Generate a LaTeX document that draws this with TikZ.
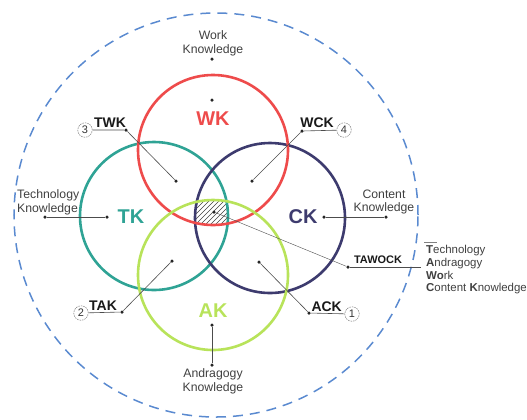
\documentclass[tikz,border=0pt]{standalone}
\usepackage{fontspec}
\setmainfont{Liberation Sans}
\definecolor{cwk}{HTML}{EE4B4B}
\definecolor{ctk}{HTML}{2FA395}
\definecolor{cck}{HTML}{3D3B6E}
\definecolor{cak}{HTML}{B8E35A}
\definecolor{cout}{HTML}{5A8AD0}
\begin{document}
\begin{tikzpicture}[x=1bp,y=-1bp,
  dot/.style={circle,fill=black!85,inner sep=0pt,minimum size=3.5bp},
  lbl/.style={font=\fontsize{12.3}{14}\selectfont,text=black!75,align=center,inner sep=0pt},
  bigl/.style={font=\fontsize{20}{20}\selectfont\bfseries,inner sep=0pt},
  midl/.style={font=\fontsize{14}{14}\selectfont\bfseries,inner sep=0pt,text=black!90},
  numc/.style={circle,draw=black!55,dash pattern=on 1.5bp off 1bp,line width=0.5bp,minimum size=14.5bp,inner sep=0pt,font=\fontsize{11}{11}\selectfont,text=black!80},
  conn/.style={draw=black!70,line width=0.6bp},
  ring/.style={line width=2.6bp},
  hatch/.style={draw=black!75,line width=0.6bp}]
\useasboundingbox (0,0) rectangle (527,419);
% outer dashed circle
\draw[cout,line width=1.5bp,dash pattern=on 10bp off 7bp] (216,215) circle[radius=202bp];
% hatched four-way intersection
\begin{scope}
  \clip (213,150) circle[radius=75bp];
  \clip (154,216) circle[radius=74bp];
  \clip (270,218) circle[radius=75bp];
  \clip (213,275) circle[radius=75bp];
  \foreach \i in {-60,-55,...,60} {\draw[hatch] (180+\i,245) -- (245+\i,180);}
\end{scope}
% circles
\draw[ring,ctk] (154,216) circle[radius=74bp];
\draw[ring,cck] (270,218) circle[radius=75bp];
\draw[ring,cwk] (213,150) circle[radius=75bp];
\draw[ring,cak] (213,275) circle[radius=75bp];
% circle labels
\node[bigl,text=cwk] (wk) at (213,119) {WK};
\node[bigl,text=ctk] (tk) at (131,217) {TK};
\node[bigl,text=cck] (ck) at (303,217) {CK};
\node[bigl,text=cak] (ak) at (213,311) {AK};
% outer texts
\node[lbl] (wkt) at (213,43) {Work\\Knowledge};
\node[dot] (wkd1) at (212,59) {};
\node[dot] (wkd2) at (212,100) {};
\node[lbl,align=left,anchor=west] (tkt) at (17,202) {Technology\\Knowledge};
\node[dot] (tkd1) at (45,217) {};
\node[dot] (tkd2) at (107,217) {};
\draw[conn] (tkd1) -- (tkd2);
\node[lbl] (ckt) at (384,202) {Content\\Knowledge};
\node[dot] (ckd1) at (324,217) {};
\node[dot] (ckd2) at (386,217) {};
\draw[conn] (ckd1) -- (ckd2);
\node[lbl] (akt) at (213,381) {Andragogy\\Knowledge};
\node[dot] (akd1) at (212,325) {};
\node[dot] (akd2) at (212,365) {};
\draw[conn] (akd1) -- (akd2);
% pairwise intersections
\node[numc] (n3) at (85,130) {3};
\node[midl,anchor=south west] (twk) at (94,128) {TWK};
\node[dot] (twke) at (126,130) {};
\node[dot] (twkd) at (176,181) {};
\draw[conn] (n3) -- (twke) -- (twkd);
\node[numc] (n4) at (344,130) {4};
\node[midl,anchor=south east] (wck) at (334,128) {WCK};
\node[dot] (wcke) at (302,131) {};
\node[dot] (wckd) at (252,181) {};
\draw[conn] (n4) -- (wcke) -- (wckd);
\node[numc] (n2) at (81,313) {2};
\node[midl,anchor=south west] (tak) at (89,311) {TAK};
\node[dot] (take) at (122,312) {};
\node[dot] (takd) at (172,261) {};
\draw[conn] (n2) -- (take) -- (takd);
\node[numc] (n1) at (352,314) {1};
\node[midl,anchor=south east] (ack) at (342,312) {ACK};
\node[dot] (acke) at (309,313) {};
\node[dot] (ackd) at (259,262) {};
\draw[conn] (n1) -- (acke) -- (ackd);
% TAWOCK
\node[dot] (tawd) at (214,212) {};
\node[dot] (tawe) at (348,267) {};
\coordinate (tawr) at (421,267);
\draw[conn,line width=0.4bp] (tawd) -- (tawe);
\draw[conn] (tawe) -- (tawr);
\node[font=\fontsize{11}{11}\selectfont\bfseries,inner sep=0pt,anchor=south,text=black!90] (tawock) at (378,264) {TAWOCK};
\coordinate (br1) at (424,242);
\coordinate (br2) at (437,242);
\draw[draw=black!50,line width=0.5bp] (br1) -- (br2);
\node[font=\fontsize{11.5}{12.8}\selectfont,align=left,anchor=north west,inner sep=0pt,text=black!75] (legend) at (426,245)
  {\textbf{T}echnology\\\textbf{A}ndragogy\\\textbf{Wo}rk\\\textbf{C}ontent \textbf{K}nowledge};
\end{tikzpicture}
\end{document}
